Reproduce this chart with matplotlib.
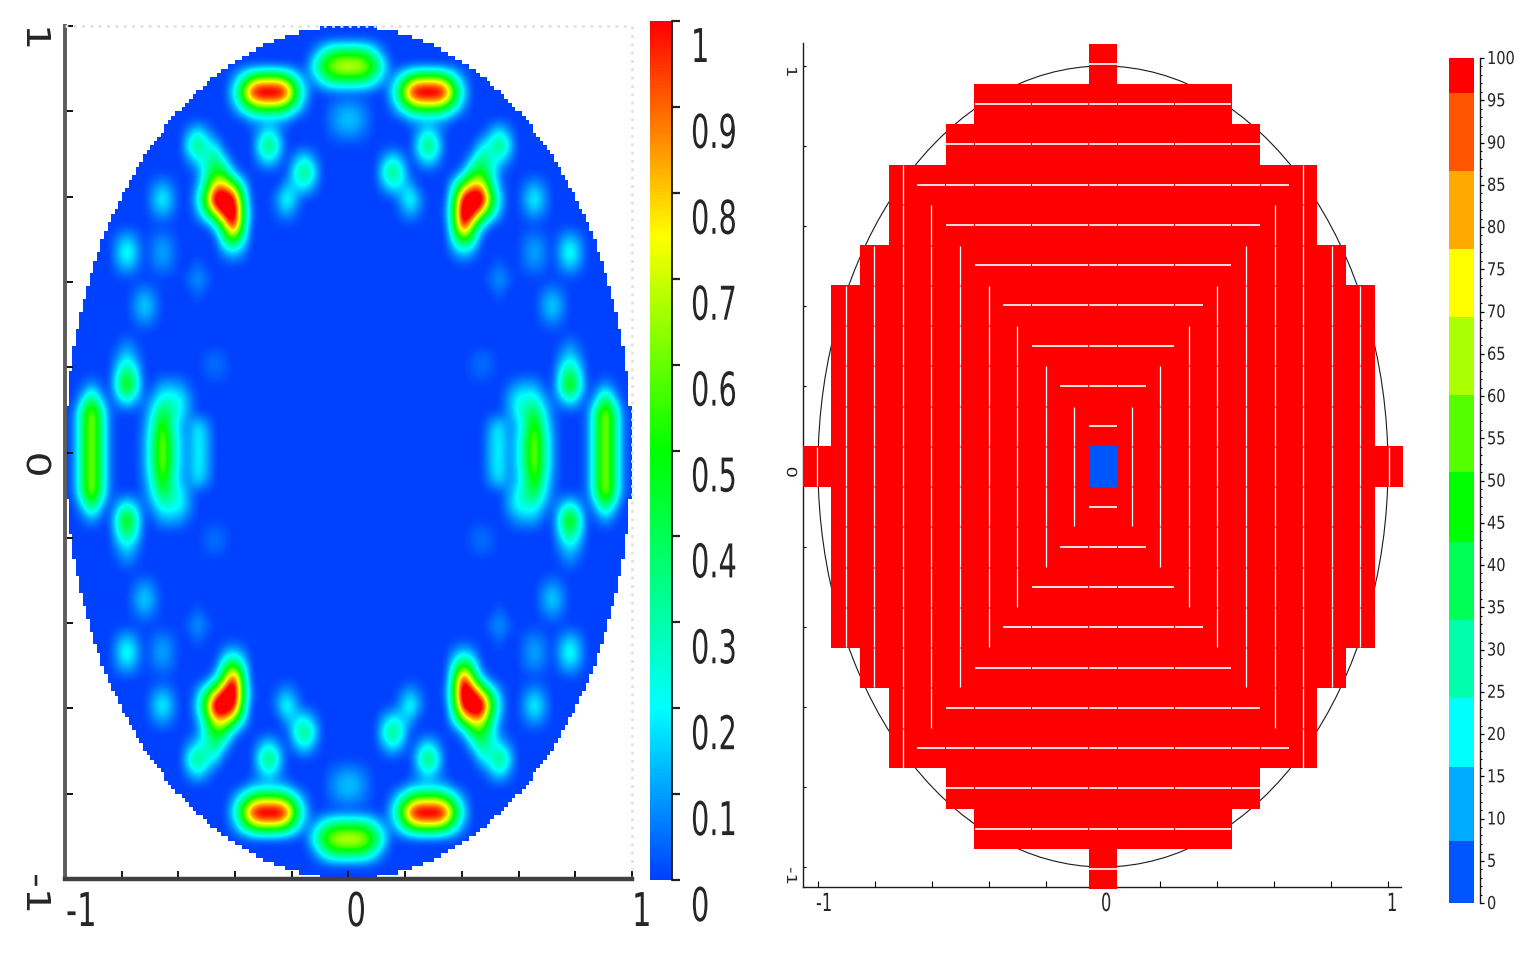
import numpy as np
import matplotlib
matplotlib.use('Agg')
import matplotlib.pyplot as plt
from matplotlib.collections import LineCollection
from matplotlib.colors import BoundaryNorm, LinearSegmentedColormap, ListedColormap
from matplotlib.patches import Circle
from matplotlib.patheffects import AbstractPathEffect
from matplotlib.ticker import MultipleLocator
from matplotlib.transforms import Affine2D

W, H = 1526, 954

# left panel: upper left quarter of the field, 33x33 lattice, (row, first col, values)
# values over 1 only saturate the red plateaus, the colour scale stops at 1
field_size = 33
field_runs = [
    (2, 28, [.05, .22, .4, .45, .45]),
    (3, 28, [.22, .5, .68, .76, .78]),
    (4, 28, [.08, .25, .4, .45, .45]),
    (4, 19, [.08, .3, .55, .7, .7, .7, .55, .3, .08]),
    (5, 19, [.2, .55, 1.05, 1.15, 1.15, 1.15, 1.05, .55, .2]),
    (6, 19, [.08, .3, .5, .65, .65, .65, .5, .3, .08]),
    (7, 21, [.08, .08, .08, .08, .08]),
    (6, 30, [.04, .08, .1]),
    (7, 30, [.07, .13, .16]),
    (8, 30, [.04, .08, .1]),
    (8, 22, [.1, .22, .1]),
    (8, 14, [.1, .22, .1]),
    (9, 14, [.25, .42, .25, .18]),
    (9, 22, [.25, .45, .25]),
    (10, 14, [.08, .2, .25, .4, .15]),
    (10, 22, [.1, .22, .1]),
    (10, 26, [.1, .22, .1]),
    (11, 15, [.05, .3, .5, .45, .12]),
    (11, 26, [.25, .42, .25]),
    (12, 15, [.1, .4, .85, .85, .65, .25]),
    (12, 25, [.12, .15, .22, .1]),
    (12, 10, [.06, .12, .06]),
    (13, 15, [.2, .65, 1.2, 1.2, 1.1, .5]),
    (13, 24, [.1, .28, .12]),
    (13, 10, [.12, .25, .12]),
    (14, 15, [.1, .4, .75, 1.1, 1.2, .55, .05]),
    (14, 24, [.05, .12, .05]),
    (14, 10, [.06, .12, .06]),
    (15, 17, [.2, .6, 1.1, .5]),
    (16, 18, [.35, .55, .28]),
    (16, 6, [.08, .15, .08]),
    (16, 10, [.05, .08, .05]),
    (17, 18, [.08, .15, .08]),
    (17, 6, [.14, .28, .14]),
    (17, 10, [.07, .13, .07]),
    (18, 6, [.08, .15, .08]),
    (18, 10, [.05, .08, .05]),
    (18, 15, [.05]),
    (19, 14, [.05, .11, .05]),
    (20, 15, [.05]),
    (20, 8, [.05, .1, .05]),
    (21, 8, [.1, .19, .1]),
    (22, 8, [.05, .1, .05]),
    (24, 6, [.03, .1, .03]),
    (25, 6, [.1, .2, .1]),
    (25, 16, [.04, .06, .03]),
    (26, 6, [.22, .42, .22]),
    (26, 16, [.03, .05, .03]),
    (27, 2, [.03, .1, .03]),
    (27, 6, [.3, .62, .3]),
    (27, 10, [.03, .12, .12, .1, .03]),
    (28, 2, [.15, .42, .15]),
    (28, 6, [.12, .25, .12]),
    (28, 9, [.03, .12, .25, .25, .22, .1]),
    (29, 1, [.05, .38, .7, .38, .05]),
    (29, 9, [.05, .22, .45, .35, .2, .08]),
    (30, 1, [.05, .38, .7, .38, .05]),
    (30, 9, [.08, .28, .6, .3, .12, .08, .2, .1]),
    (31, 1, [.05, .38, .7, .38, .05]),
    (31, 9, [.1, .35, .68, .38, .15, .08, .22, .12]),
    (32, 1, [.05, .38, .7, .38, .05]),
    (32, 9, [.1, .35, .68, .38, .15, .08, .22, .12]),
]
field_colors = ['#0040ff', '#00ffff', '#00ff00', '#ffff00', '#ff0000']
field_nodes = [0, .2, .5, .75, 1]
field_ticks = [0, .1, .2, .3, .4, .5, .6, .7, .8, .9, 1]
field_labels = ['0', '0.1', '0.2', '0.3', '0.4', '0.5', '0.6', '0.7', '0.8', '0.9', '1']

# right panel: 21x21 cells, half width of each row counted from the middle
row_half = [10, 9, 9, 9, 9, 8, 7, 7, 5, 4, 0]
hline_half = [-1, 0, 1, 2, 3, 4, 5, 6, 5, 4, 0]
vline_half = [-1, 1, 2, 3, 4, 5, 6, 7, 5, 4, 0]
cell_value = 100
center_value = 2
level_edges = [0, 7.3, 16.1, 24.3, 33.5, 42.7, 51, 60.1, 69.4, 77.4, 86.6, 95.9, 100]
level_colors = ['#0055ff', '#00aaff', '#00ffff', '#00ffaa', '#00ff55', '#00ff00',
                '#55ff00', '#aaff00', '#ffff00', '#ffaa00', '#ff5500', '#ff0000']
level_ticks = list(range(0, 101, 5))


class Squeeze(AbstractPathEffect):
    # the reference glyphs are stretched, matplotlib has no font stretch of its own
    def __init__(self, sx):
        super().__init__()
        self.sx = sx

    def draw_path(self, renderer, gc, tpath, affine, rgbFace=None):
        renderer.draw_path(gc, tpath, Affine2D().scale(self.sx, 1) + affine, rgbFace)


def px_axes(left, top, right, bottom):
    return fig.add_axes([left / W, 1 - bottom / H, (right - left) / W, (bottom - top) / H])


def put_label(ax, xy, trans, s, dx, dy, size, sx, rot=0):
    ax.annotate(s, xy=xy, xycoords=trans, xytext=(dx, dy), textcoords='offset pixels',
                rotation=rot, rotation_mode='anchor', ha='left', va='baseline',
                fontsize=size, color='#262626', annotation_clip=False,
                path_effects=[Squeeze(sx)])


fig = plt.figure(figsize=(W / 100, H / 100), dpi=100)

# left panel
quarter = np.zeros((field_size, field_size))
for r, c, vals in field_runs:
    quarter[r, c:c + len(vals)] = vals
top = np.hstack([quarter, quarter[:, -2::-1]])
field = np.vstack([top, top[-2::-1]])
field_cmap = LinearSegmentedColormap.from_list('field', list(zip(field_nodes, field_colors)))

ax1 = px_axes(65, 27, 632, 880)
d = 1 / (field_size - 1)
ax1.imshow(field, extent=(-1 - d / 2, 1 + d / 2, -1 - d / 2, 1 + d / 2), aspect='auto',
           cmap=field_cmap, vmin=0, vmax=1, interpolation='bicubic', origin='upper')
# blocky white mask outside the unit circle, the original edge is jagged
mask_nx, mask_ny = 160, 200
mx, my = np.meshgrid((np.arange(mask_nx) + .5) / mask_nx * 2 - 1, (np.arange(mask_ny) + .5) / mask_ny * 2 - 1)
mask = np.ones(mx.shape + (4,))
mask[..., 3] = mx ** 2 + my ** 2 > 1
ax1.imshow(mask, extent=(-1, 1, -1, 1), aspect='auto', interpolation='nearest', origin='lower')
ax1.set_xlim(-1, 1)
ax1.set_ylim(-1, 1)
ax1.set_xticks(np.arange(-1, 1.01, .2))
ax1.set_yticks(np.arange(-1, 1.01, .2))
ax1.tick_params(direction='in', length=6, width=1.4, color='#111111', labelbottom=False, labelleft=False)
ax1.spines['left'].set(color='#5c5c5c', linewidth=2.8)
ax1.spines['bottom'].set(color='#404040', linewidth=3.2)
for side in ['top', 'right']:
    ax1.spines[side].set(color='#e2e2e2', linewidth=2, linestyle=(0, (1, 2)), capstyle='butt')
for v, s, dx in zip([-1, 0, 1], ['-1', '0', '1'], [1, -2, 0]):
    put_label(ax1, (v, 0), ax1.get_xaxis_transform(), s, dx, -47, 33.5, .66)
for v, s, dy in zip([1, 0, -1], ['1', '0', '-1'], [2, 1, 6]):
    put_label(ax1, (0, v), ax1.get_yaxis_transform(), s, -38, dy, 23.7, 1.25, rot=-90)

cax1 = px_axes(650, 22, 672, 881)
cax1.imshow(np.linspace(1, 0, 256)[:, None], extent=(0, 1, 0, 1), aspect='auto',
            cmap=field_cmap, vmin=0, vmax=1)
cax1.set_xticks([])
cax1.set_yticks(field_ticks)
cax1.yaxis.tick_right()
cax1.tick_params(axis='y', direction='out', length=6, width=1.6, color='#222222', labelright=False)
for side in ['top', 'left', 'bottom']:
    cax1.spines[side].set_visible(False)
cax1.spines['right'].set(color='#111111', linewidth=1.3)
for v, s in zip(field_ticks, field_labels):
    put_label(cax1, (1, v), cax1.get_yaxis_transform(), s, 19, -41, 33.5, .62)

# right panel
ax2 = px_axes(803, 44, 1401, 888)
cell_w, cell_h = .1003, .1005
n = len(row_half) - 1
grid = np.full((2 * n + 1, 2 * n + 1), np.nan)
for j, half in enumerate(row_half):
    grid[n + j, n - half:n + half + 1] = cell_value
    grid[n - j, n - half:n + half + 1] = cell_value
grid[n, n] = center_value
x_edges = (np.arange(2 * n + 2) - n - .5) * cell_w
y_edges = (np.arange(2 * n + 2) - n - .5) * cell_h
level_cmap = ListedColormap(level_colors)
level_norm = BoundaryNorm(level_edges, level_cmap.N)

ax2.add_patch(Circle((0, 0), 1, fill=False, ec='#1a1a1a', lw=.8, zorder=2))
ax2.pcolormesh(x_edges, y_edges, grid, cmap=level_cmap, norm=level_norm, zorder=3, clip_on=False)

h_segs = []
for j, half in enumerate(hline_half):
    for sign in [1, -1]:
        for i in range(-half, half + 1):
            h_segs.append([((i - .49) * cell_w, sign * j * cell_h), ((i + .49) * cell_w, sign * j * cell_h)])
v_segs = []
for i, half in enumerate(vline_half):
    for sign in [1, -1]:
        for j in range(-half, half + 1):
            v_segs.append([(sign * i * cell_w, (j - .49) * cell_h), (sign * i * cell_w, (j + .49) * cell_h)])
ax2.add_collection(LineCollection(h_segs, colors='#fff0f0', linewidths=1.3, zorder=4))
ax2.add_collection(LineCollection(v_segs, colors='white', linewidths=.9, zorder=4))

ax2.set_xlim(-1.0526, 1.0456)
ax2.set_ylim(-1.05, 1.0574)
ax2.set_xticks(np.arange(-1, 1.01, .2))
ax2.set_yticks(np.arange(-1, 1.01, .2))
ax2.tick_params(axis='x', direction='in', length=4.5, width=.8, labelbottom=False)
ax2.tick_params(axis='y', direction='in', length=2.5, width=.8, labelleft=False)
for side in ['top', 'right']:
    ax2.spines[side].set_visible(False)
for side in ['left', 'bottom']:
    ax2.spines[side].set(color='#1a1a1a', linewidth=1.0)
for v, s, dx in zip([-1, 0, 1], ['-1', '0', '1'], [-2, -2, -1]):
    put_label(ax2, (v, 0), ax2.get_xaxis_transform(), s, dx, -24, 18, .65)
for v, s in zip([1, 0, -1], ['1', '0', '-1']):
    put_label(ax2, (0, v), ax2.get_yaxis_transform(), s, -16, 0, 10, 1.3, rot=-90)

cax2 = px_axes(1449, 59, 1474, 904)
cax2.pcolormesh([0, 1], level_edges, np.array(level_edges[:-1])[:, None] + .01,
                cmap=level_cmap, norm=level_norm)
cax2.set_ylim(0, 100)
cax2.set_xticks([])
cax2.set_yticks(level_ticks)
cax2.yaxis.set_minor_locator(MultipleLocator(1))
cax2.yaxis.tick_right()
cax2.tick_params(axis='y', which='major', direction='out', length=3, width=.9, labelright=False)
cax2.tick_params(axis='y', which='minor', direction='out', length=1.6, width=.7)
for side in ['top', 'left', 'bottom']:
    cax2.spines[side].set_visible(False)
cax2.spines['right'].set_position(('outward', 4.3))
cax2.spines['right'].set(color='#111111', linewidth=1.0)
for v in level_ticks:
    put_label(cax2, (1, v), cax2.get_yaxis_transform(), str(v), 13, -6, 12.8, .82)

fig.savefig('out.png', dpi=100)
